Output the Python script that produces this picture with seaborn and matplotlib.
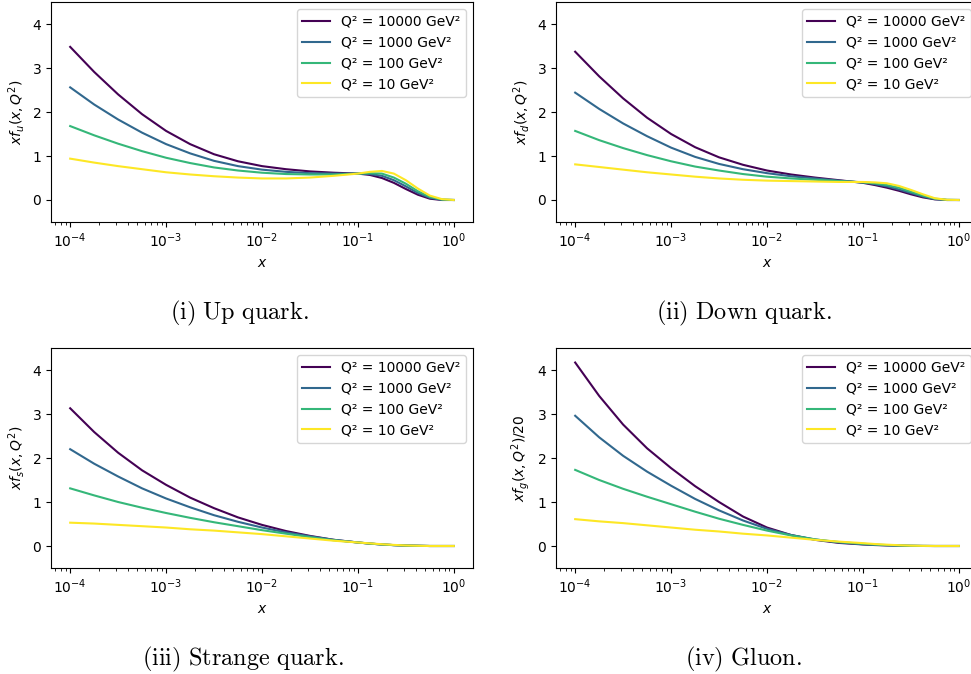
import numpy as np
import pandas as pd
import seaborn as sns
import matplotlib.pyplot as plt

# momentum fraction grid (quarter decades, then eighth decades above 0.1)
x_vals = [1e-4, 1.78e-4, 3.16e-4, 5.62e-4, 1e-3, 1.78e-3, 3.16e-3, 5.62e-3,
          1e-2, 1.78e-2, 3.16e-2, 5.62e-2, 0.1, 0.133, 0.178, 0.237, 0.316,
          0.422, 0.562, 0.75, 1.0]

q2_labels = ["Q² = 10000 GeV²", "Q² = 1000 GeV²", "Q² = 100 GeV²", "Q² = 10 GeV²"]

up_q10000 = [3.48, 2.91, 2.40, 1.95, 1.57, 1.27, 1.04, 0.88, 0.77, 0.70, 0.65, 0.62, 0.60,
             0.57, 0.50, 0.39, 0.25, 0.12, 0.03, 0.0, 0.0]
up_q1000 = [2.56, 2.17, 1.83, 1.53, 1.27, 1.06, 0.89, 0.77, 0.69, 0.64, 0.61, 0.60, 0.60,
            0.59, 0.55, 0.45, 0.31, 0.16, 0.05, 0.005, 0.0]
up_q100 = [1.68, 1.47, 1.28, 1.11, 0.96, 0.84, 0.74, 0.67, 0.62, 0.59, 0.58, 0.58, 0.60,
           0.61, 0.60, 0.51, 0.37, 0.20, 0.07, 0.01, 0.0]
up_q10 = [0.94, 0.85, 0.77, 0.70, 0.63, 0.58, 0.54, 0.51, 0.49, 0.49, 0.51, 0.55, 0.60,
          0.64, 0.66, 0.60, 0.45, 0.26, 0.10, 0.02, 0.0]

down_q10000 = [3.37, 2.81, 2.31, 1.87, 1.50, 1.20, 0.97, 0.80, 0.67, 0.58, 0.51, 0.45, 0.39,
               0.34, 0.28, 0.21, 0.13, 0.06, 0.015, 0.0, 0.0]
down_q1000 = [2.44, 2.07, 1.74, 1.45, 1.19, 0.98, 0.82, 0.70, 0.61, 0.54, 0.49, 0.44, 0.40,
              0.36, 0.31, 0.24, 0.16, 0.08, 0.02, 0.0, 0.0]
down_q100 = [1.57, 1.36, 1.18, 1.02, 0.88, 0.76, 0.67, 0.59, 0.53, 0.49, 0.46, 0.43, 0.40,
             0.38, 0.34, 0.28, 0.19, 0.10, 0.03, 0.005, 0.0]
down_q10 = [0.81, 0.75, 0.69, 0.63, 0.58, 0.53, 0.49, 0.46, 0.44, 0.43, 0.42, 0.41, 0.41,
            0.40, 0.38, 0.32, 0.23, 0.13, 0.04, 0.005, 0.0]

strange_q10000 = [3.13, 2.59, 2.12, 1.72, 1.39, 1.10, 0.86, 0.65, 0.48, 0.34, 0.23, 0.14, 0.08,
                  0.055, 0.035, 0.02, 0.01, 0.005, 0.0, 0.0, 0.0]
strange_q1000 = [2.20, 1.87, 1.58, 1.31, 1.08, 0.88, 0.70, 0.55, 0.42, 0.31, 0.22, 0.14, 0.08,
                 0.055, 0.035, 0.02, 0.01, 0.005, 0.0, 0.0, 0.0]
strange_q100 = [1.31, 1.15, 1.00, 0.87, 0.75, 0.64, 0.54, 0.45, 0.36, 0.28, 0.20, 0.13, 0.08,
                0.055, 0.035, 0.02, 0.01, 0.005, 0.0, 0.0, 0.0]
strange_q10 = [0.53, 0.51, 0.48, 0.45, 0.42, 0.38, 0.35, 0.31, 0.27, 0.22, 0.17, 0.12, 0.08,
               0.06, 0.04, 0.025, 0.012, 0.005, 0.0, 0.0, 0.0]

gluon_q10000 = [4.17, 3.41, 2.76, 2.22, 1.77, 1.36, 1.00, 0.67, 0.42, 0.25, 0.14, 0.07, 0.035,
                0.022, 0.013, 0.007, 0.003, 0.001, 0.0, 0.0, 0.0]
gluon_q1000 = [2.96, 2.47, 2.05, 1.69, 1.37, 1.07, 0.81, 0.58, 0.39, 0.25, 0.15, 0.08, 0.04,
               0.027, 0.016, 0.009, 0.004, 0.001, 0.0, 0.0, 0.0]
gluon_q100 = [1.73, 1.50, 1.30, 1.12, 0.95, 0.78, 0.62, 0.48, 0.35, 0.24, 0.15, 0.09, 0.05,
              0.034, 0.021, 0.012, 0.006, 0.002, 0.0, 0.0, 0.0]
gluon_q10 = [0.61, 0.56, 0.52, 0.47, 0.42, 0.37, 0.33, 0.28, 0.24, 0.19, 0.14, 0.10, 0.065,
             0.045, 0.03, 0.018, 0.008, 0.003, 0.0, 0.0, 0.0]

colors = plt.cm.viridis(np.linspace(0, 1, 4))


def plot_pdf(ax, curves, ylabel):
    for label, vals, col in zip(q2_labels, curves, colors):
        sns.lineplot(x=x_vals, y=vals, ax=ax, color=col, label=label, linewidth=1.5)
    ax.set_xscale('log')
    ax.set_ylim(-0.5, 4.5)
    ax.set_yticks([0, 1, 2, 3, 4])
    ax.set_xlabel('$x$')
    ax.set_ylabel(ylabel)
    ax.legend(loc='upper right', fontsize=10)


fig = plt.figure(figsize=(9.71, 6.74), dpi=100)
w, h = 422 / 971, 220 / 674
ax1 = fig.add_axes([51 / 971, 1 - 222 / 674, w, h])
ax2 = fig.add_axes([556 / 971, 1 - 222 / 674, w, h])
ax3 = fig.add_axes([51 / 971, 1 - 568 / 674, w, h])
ax4 = fig.add_axes([556 / 971, 1 - 568 / 674, w, h])

plot_pdf(ax1, [up_q10000, up_q1000, up_q100, up_q10], '$xf_u(x, Q^2)$')
plot_pdf(ax2, [down_q10000, down_q1000, down_q100, down_q10], '$xf_d(x, Q^2)$')
plot_pdf(ax3, [strange_q10000, strange_q1000, strange_q100, strange_q10], '$xf_s(x, Q^2)$')
plot_pdf(ax4, [gluon_q10000, gluon_q1000, gluon_q100, gluon_q10], '$xf_g(x, Q^2)/20$')

captions = [(r'$\mathrm{(i)\ Up\ quark.}$', 239, 313),
            (r'$\mathrm{(ii)\ Down\ quark.}$', 744, 313),
            (r'$\mathrm{(iii)\ Strange\ quark.}$', 243, 659),
            (r'$\mathrm{(iv)\ Gluon.}$', 744, 659)]
for txt, cx, cy in captions:
    fig.text(cx / 971, 1 - cy / 674, txt, ha='center', va='center',
             fontsize=17.5, math_fontfamily='cm')

fig.savefig('out.png', dpi=100)
